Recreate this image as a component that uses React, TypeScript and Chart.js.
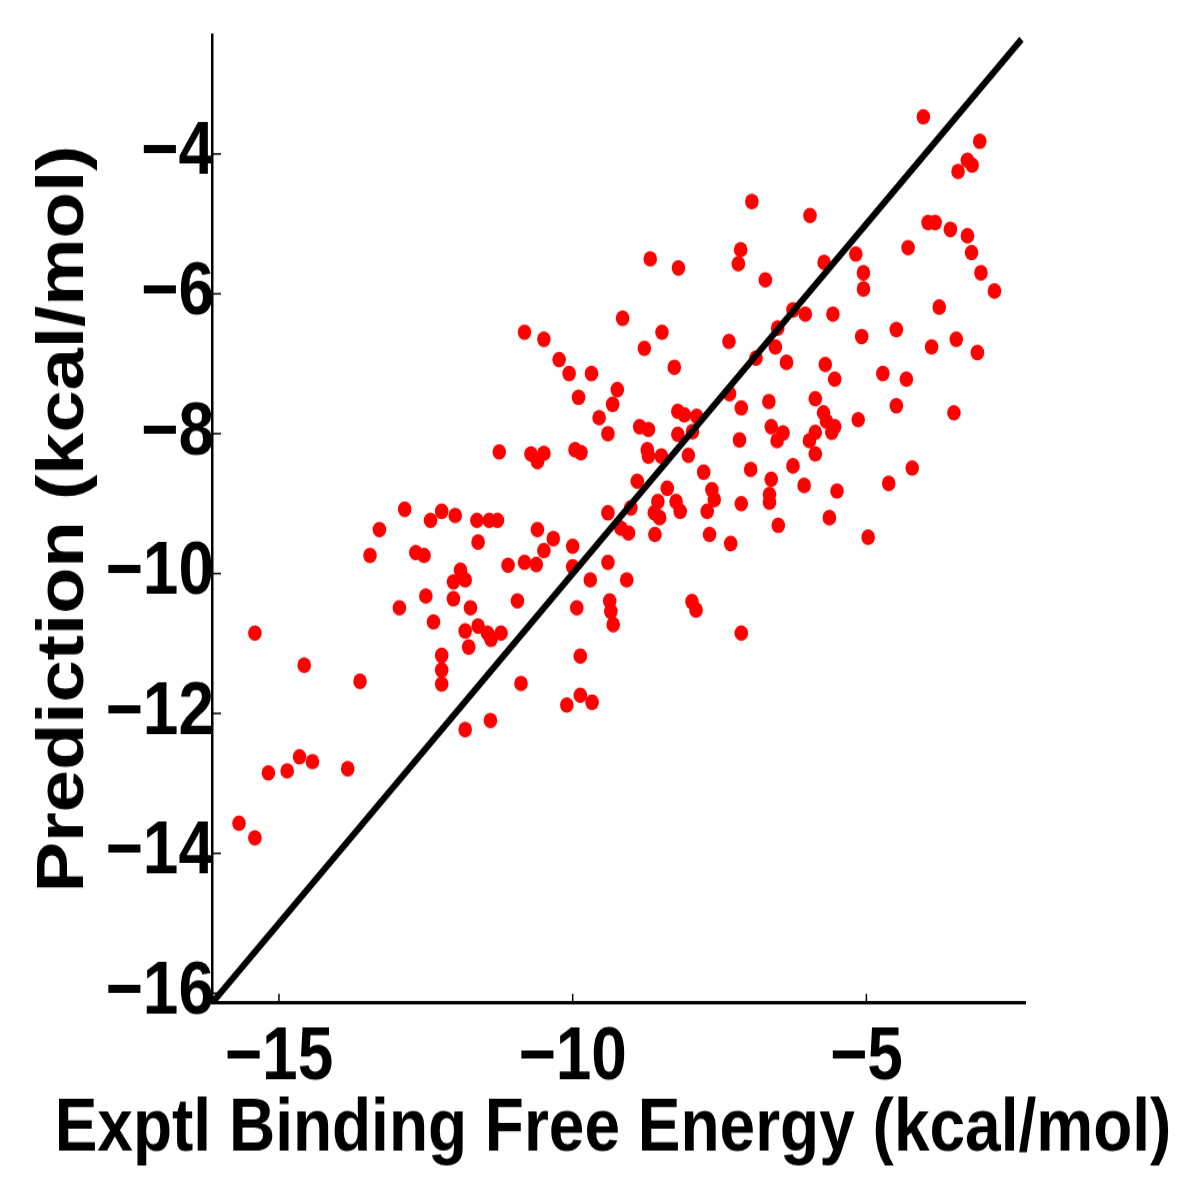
import React, { useEffect, useRef } from 'react';
import { Chart, registerables } from 'chart.js';

Chart.register(...registerables);

// Experimental binding free energy (x) and predicted value (y), kcal/mol
const exptl = [
  -12.86, -13.29, -12.42, -12.23, -12.0, -11.63, -11.61, -13.45, -12.67, -12.53,
  -11.91, -12.03, -11.83, -12.5, -12.03, -12.95, -11.74, -12.37, -11.83, -11.61,
  -11.77, -15.41, -14.57, -13.62, -12.23, -12.23, -12.23, -11.83, -14.65, -14.43,
  -14.86, -15.18, -13.83, -15.68, -15.41,
  -9.15, -10.82, -10.49, -8.48, -8.78, -7.34, -10.23, -10.06, -9.68, -8.27,
  -9.24, -9.9, -9.32, -9.55, -9.4, -8.21, -8.1, -7.89, -7.33, -7.13,
  -8.86, -8.71, -8.21, -7.96, -7.16, -11.25, -10.71, -10.6, -10.49, -9.96,
  -9.86, -8.73, -8.71, -8.49, -8.03, -7.77, -8.9, -8.39, -7.63, -7.59,
  -8.55, -8.24, -8.17, -8.61, -8.52, -9.01, -9.4, -7.71, -7.13, -11.42,
  -11.28, -10.6, -10.33, -10.49, -10.0, -11.1, -10.82, -10.62, -9.18, -9.05,
  -8.6, -7.67, -7.31, -9.4, -9.7, -9.08, -10.0, -10.94, -9.37, -7.97,
  -9.93, -9.35, -9.31, -7.9, -7.13, -11.45, -11.39, -11.22, -9.87, -10.88,
  -9.87, -10.1, -9.67, -11.4,
  -4.03, -3.07, -3.28, -3.2, -3.44, -6.95, -5.96, -3.95, -3.83, -3.57,
  -3.28, -3.21, -4.29, -5.18, -7.14, -7.18, -5.72, -5.05, -5.05, -6.72,
  -3.05, -2.82, -3.76, -6.25, -6.04, -5.57, -4.49, -5.08, -3.47, -3.89,
  -6.51, -6.55, -3.11,
  -6.88, -6.36, -5.7, -5.54, -4.72, -4.32, -6.66, -5.87, -5.73, -5.68,
  -5.54, -5.59, -5.14, -4.49, -3.51, -6.62, -6.42, -6.52, -5.87, -5.97,
  -5.87, -6.97, -6.25, -6.62, -6.06, -5.5, -6.65, -6.65, -4.62, -4.22,
  -6.5, -5.63, -4.97,
  -8.68, -8.2,
];

const predicted = [
  -9.08, -9.37, -9.24, -9.11, -9.17, -9.24, -9.55, -9.74, -9.7, -9.74,
  -9.95, -10.12, -10.09, -10.32, -10.36, -10.49, -10.49, -10.69, -10.82, -10.75,
  -11.05, -10.85, -11.31, -11.54, -11.17, -11.38, -11.58, -12.23, -12.62, -12.69,
  -12.82, -12.85, -12.79, -13.57, -13.78,
  -6.35, -6.55, -6.65, -6.55, -6.78, -6.68, -6.94, -7.14, -7.14, -7.05,
  -7.37, -7.48, -7.58, -7.77, -8.0, -7.68, -7.73, -7.75, -7.43, -7.63,
  -7.9, -7.94, -8.01, -7.97, -8.09, -8.26, -8.29, -8.4, -8.28, -8.23,
  -8.27, -8.23, -8.32, -8.32, -8.31, -8.55, -8.68, -8.78, -8.8, -8.94,
  -8.97, -8.97, -9.11, -9.13, -9.2, -9.06, -9.13, -9.11, -9.0, -9.24,
  -9.24, -9.37, -9.5, -9.67, -9.61, -9.88, -9.84, -9.87, -9.35, -9.42,
  -9.44, -9.44, -9.57, -9.84, -10.09, -10.09, -9.9, -10.39, -10.39, -10.4,
  -10.49, -10.54, -10.73, -10.52, -10.85, -10.85, -10.94, -10.85, -11.18, -11.57,
  -11.74, -11.88, -11.84, -12.1,
  -3.47, -3.82, -4.09, -4.16, -4.25, -4.68, -4.88, -4.98, -4.98, -5.08,
  -5.17, -5.41, -5.34, -5.43, -5.37, -5.57, -5.55, -5.7, -5.93, -5.8,
  -5.7, -5.96, -6.19, -6.23, -6.29, -6.29, -6.51, -6.61, -6.65, -6.76,
  -6.49, -6.76, -6.84,
  -6.92, -6.98, -7.01, -7.22, -7.14, -7.22, -7.54, -7.5, -7.7, -7.82,
  -7.9, -7.98, -7.8, -7.6, -7.7, -7.9, -7.99, -8.1, -7.98, -8.1,
  -8.29, -8.51, -8.46, -8.65, -8.74, -8.82, -8.87, -8.98, -8.71, -8.49,
  -9.31, -9.2, -9.48,
  -5.5, -5.63,
];

// Identity (y = x) reference line end points
const identityLine = [-16.14, -2.36];

const axisMin = -16.14;
const axisMax = -2.3;
const xTickValues = [-15, -10, -5];
const yTickValues = [-16, -14, -12, -10, -8, -6, -4];
const xTitle = 'Exptl Binding Free Energy (kcal/mol)';
const yTitle = 'Prediction (kcal/mol)';

const W = 1200;
const H = 1043;
const S = 1200 / H;
const FONT = "'Liberation Sans', Arial, Helvetica, sans-serif";

const fmt = (v: number) => String(v).replace('-', '\u2212');

const inwardTicks = {
  id: 'inwardTicks',
  afterDraw(chart: any) {
    const { ctx, chartArea, scales } = chart;
    ctx.save();
    ctx.strokeStyle = '#000';
    ctx.lineWidth = 1.5;
    xTickValues.forEach((v) => {
      const px = scales.x.getPixelForValue(v);
      ctx.beginPath();
      ctx.moveTo(px, chartArea.bottom);
      ctx.lineTo(px, chartArea.bottom - 8);
      ctx.stroke();
    });
    yTickValues.forEach((v) => {
      const py = scales.y.getPixelForValue(v);
      ctx.beginPath();
      ctx.moveTo(chartArea.left, py);
      ctx.lineTo(chartArea.left + 9, py);
      ctx.stroke();
    });
    // x-axis title, drawn without the scale-width squeeze
    ctx.fillStyle = '#000';
    ctx.font = `bold 64px ${FONT}`;
    ctx.textAlign = 'center';
    ctx.textBaseline = 'alphabetic';
    ctx.fillText(xTitle, 613, 1150 / S);
    ctx.restore();
  },
};

export default function App() {
  const ref = useRef<HTMLCanvasElement | null>(null);

  useEffect(() => {
    if (!ref.current) return;
    const points = exptl.map((x, i) => ({ x, y: predicted[i] }));
    const line = identityLine.map((v) => ({ x: v, y: v }));
    const tickFont = { family: FONT, size: 64, weight: 'bold' as const };
    const zeroPad = (s: any) => {
      s.paddingLeft = 0;
      s.paddingRight = 0;
      s.paddingTop = 0;
      s.paddingBottom = 0;
    };
    const chart = new Chart(ref.current, {
      type: 'scatter',
      data: {
        datasets: [
          {
            label: 'y = x',
            data: line,
            showLine: true,
            borderColor: '#000',
            borderWidth: 6,
            pointRadius: 0,
            order: 0,
          },
          {
            label: 'Prediction',
            data: points,
            backgroundColor: '#ff0000',
            borderWidth: 0,
            pointRadius: 6.8,
            order: 1,
          },
        ],
      },
      options: {
        responsive: false,
        animation: false,
        devicePixelRatio: 1,
        layout: { padding: { left: 0, right: 175, top: 35 / S, bottom: 0 } },
        plugins: { legend: { display: false }, tooltip: { enabled: false } },
        scales: {
          x: {
            type: 'linear',
            position: 'bottom',
            min: axisMin,
            max: axisMax,
            afterBuildTicks: (s: any) => {
              s.ticks = xTickValues.map((value) => ({ value }));
            },
            afterFit: (s: any) => {
              s.height = H - 1003 / S;
              zeroPad(s);
            },
            grid: { display: false, drawTicks: false },
            border: { display: true, color: '#000', width: 3 },
            ticks: {
              padding: 10,
              color: '#000',
              font: tickFont,
              autoSkip: false,
              maxRotation: 0,
              callback: (v: any) => fmt(v),
            },
            title: { display: false, text: xTitle },
          },
          y: {
            type: 'linear',
            position: 'left',
            min: axisMin,
            max: axisMax,
            afterBuildTicks: (s: any) => {
              s.ticks = yTickValues.map((value) => ({ value }));
            },
            afterFit: (s: any) => {
              s.width = 212;
              zeroPad(s);
            },
            grid: { display: false, drawTicks: false },
            border: { display: true, color: '#000', width: 2.5 },
            ticks: {
              padding: -2,
              color: '#000',
              font: tickFont,
              autoSkip: false,
              callback: (v: any) => fmt(v),
            },
            title: {
              display: true,
              text: yTitle,
              color: '#000',
              font: { family: FONT, size: 66, weight: 'bold' as const },
              padding: { top: 25, bottom: 0 },
            },
          },
        },
      },
      plugins: [inwardTicks],
    });
    return () => chart.destroy();
  }, []);

  return (
    <div style={{ position: 'absolute', left: 0, top: 0, width: 1200, height: 1200, background: '#fff' }}>
      <canvas
        ref={ref}
        width={W}
        height={H}
        style={{ width: '1200px', height: '1200px', display: 'block' }}
      />
    </div>
  );
}
